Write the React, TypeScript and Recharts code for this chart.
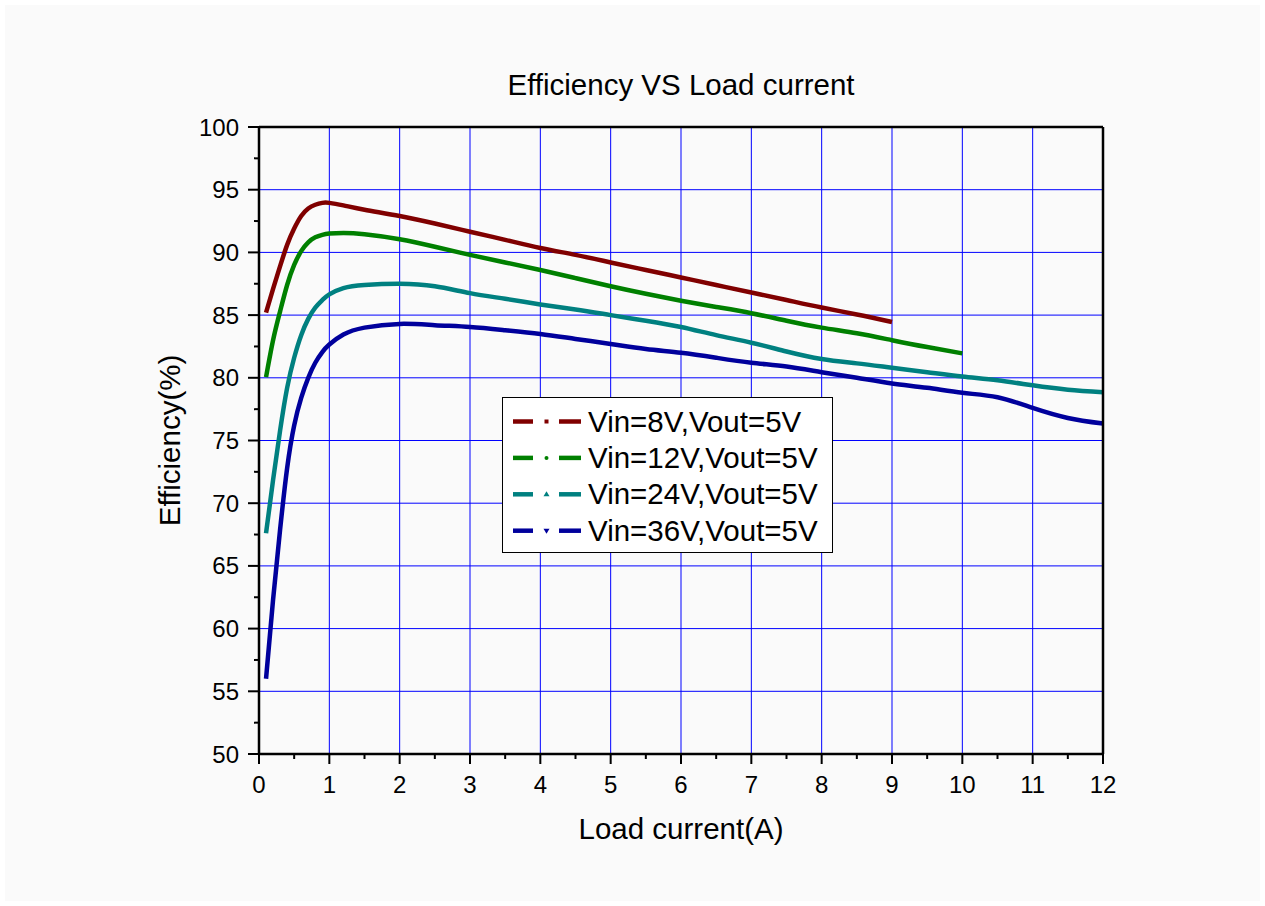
import React from 'react';
import { LineChart, Line, XAxis, YAxis, ReferenceLine, Legend, Label } from 'recharts';

// ---- data ----
const current8 = [0.1, 0.2, 0.3, 0.4, 0.5, 0.6, 0.7, 0.8, 0.9, 1.0, 1.2, 1.5, 2, 2.5, 3, 3.5, 4, 4.5, 5, 5.5, 6, 6.5, 7, 7.5, 8, 8.5, 9];
const eff8 = [85.2, 87.1, 88.9, 90.6, 91.9, 92.9, 93.5, 93.8, 93.95, 93.95, 93.75, 93.4, 92.9, 92.3, 91.65, 91.0, 90.35, 89.8, 89.2, 88.6, 88.0, 87.4, 86.8, 86.2, 85.6, 85.05, 84.45];

const current12 = [0.1, 0.2, 0.3, 0.4, 0.5, 0.6, 0.7, 0.8, 0.9, 1.0, 1.2, 1.5, 2, 2.5, 3, 3.5, 4, 4.5, 5, 5.5, 6, 6.5, 7, 7.5, 8, 8.5, 9, 9.5, 10];
const eff12 = [80.05, 83.0, 85.3, 87.4, 89.0, 90.1, 90.8, 91.2, 91.4, 91.5, 91.55, 91.45, 91.05, 90.45, 89.8, 89.2, 88.6, 87.95, 87.3, 86.7, 86.15, 85.65, 85.15, 84.55, 84.0, 83.55, 83.0, 82.45, 81.95];

const current24 = [0.1, 0.2, 0.3, 0.4, 0.5, 0.6, 0.7, 0.8, 0.9, 1.0, 1.2, 1.5, 2, 2.5, 3, 3.5, 4, 4.5, 5, 5.5, 6, 6.5, 7, 7.5, 8, 8.5, 9, 9.5, 10, 10.5, 11, 11.5, 12];
const eff24 = [67.6, 71.85, 75.8, 79.2, 81.6, 83.4, 84.7, 85.6, 86.2, 86.65, 87.15, 87.4, 87.5, 87.3, 86.75, 86.3, 85.85, 85.45, 85.0, 84.55, 84.05, 83.4, 82.8, 82.1, 81.5, 81.15, 80.8, 80.45, 80.1, 79.8, 79.4, 79.05, 78.85];

const current36 = [0.1, 0.2, 0.3, 0.4, 0.5, 0.6, 0.7, 0.8, 0.9, 1.0, 1.2, 1.5, 2, 2.5, 3, 3.5, 4, 4.5, 5, 5.5, 6, 6.5, 7, 7.5, 8, 8.5, 9, 9.5, 10, 10.5, 11, 11.5, 12];
const eff36 = [56.0, 62.3, 67.9, 72.8, 76.2, 78.4, 80.0, 81.2, 82.05, 82.65, 83.45, 84.0, 84.3, 84.2, 84.05, 83.8, 83.5, 83.1, 82.7, 82.3, 82.0, 81.6, 81.2, 80.9, 80.45, 80.0, 79.55, 79.2, 78.8, 78.45, 77.6, 76.8, 76.35];

const seriesNames = ['Vin=8V,Vout=5V', 'Vin=12V,Vout=5V', 'Vin=24V,Vout=5V', 'Vin=36V,Vout=5V'];
const seriesColors = ['#800000', '#008000', '#008080', '#00009c'];
const seriesMarkers = ['square', 'circle', 'triUp', 'triDown'];

const xTicks = [0, 0.5, 1, 1.5, 2, 2.5, 3, 3.5, 4, 4.5, 5, 5.5, 6, 6.5, 7, 7.5, 8, 8.5, 9, 9.5, 10, 10.5, 11, 11.5, 12];
const xMajor = [0, 1, 2, 3, 4, 5, 6, 7, 8, 9, 10, 11, 12];
const yTicks = [50, 52.5, 55, 57.5, 60, 62.5, 65, 67.5, 70, 72.5, 75, 77.5, 80, 82.5, 85, 87.5, 90, 92.5, 95, 97.5, 100];
const yMajor = [50, 55, 60, 65, 70, 75, 80, 85, 90, 95, 100];
const xGrid = [1, 2, 3, 4, 5, 6, 7, 8, 9, 10, 11];
const yGrid = [55, 60, 65, 70, 75, 80, 85, 90, 95];

const titleText = 'Efficiency VS Load current';
const xTitle = 'Load current(A)';
const yTitle = 'Efficiency(%)';

const toRows = (xs: number[], ys: number[]) => xs.map((c, i) => ({ current: c, eff: ys[i] }));
const seriesData = [toRows(current8, eff8), toRows(current12, eff12), toRows(current24, eff24), toRows(current36, eff36)];

const FONT = '"Liberation Sans", Arial, Helvetica, sans-serif';

const XTick = (props: any) => {
  const { x, y, payload } = props;
  const v = payload.value;
  const major = xMajor.includes(v);
  return (
    <g>
      <line x1={x} y1={y} x2={x} y2={y + (major ? 10 : 5)} stroke="#000" strokeWidth={2} />
      {major && (
        <text x={x} y={y + 39} textAnchor="middle" fontSize={24} fill="#000" fontFamily={FONT}>
          {v}
        </text>
      )}
    </g>
  );
};

const YTick = (props: any) => {
  const { x, y, payload } = props;
  const v = payload.value;
  const major = yMajor.includes(v);
  return (
    <g>
      <line x1={x} y1={y} x2={x - (major ? 11 : 5)} y2={y} stroke="#000" strokeWidth={2} />
      {major && (
        <text x={x - 20} y={y + 8.5} textAnchor="end" fontSize={24} fill="#000" fontFamily={FONT}>
          {v}
        </text>
      )}
    </g>
  );
};

const EmptyTick = () => <g />;

const Marker = ({ kind, cx, cy, color }: { kind: string; cx: number; cy: number; color: string }) => {
  if (kind === 'square') return <rect x={cx - 2} y={cy - 2} width={4} height={4} fill={color} />;
  if (kind === 'circle') return <circle cx={cx} cy={cy} r={2} fill={color} />;
  if (kind === 'triUp') return <polygon points={`${cx},${cy - 3} ${cx - 3},${cy + 2} ${cx + 3},${cy + 2}`} fill={color} />;
  return <polygon points={`${cx},${cy + 3} ${cx - 3},${cy - 2} ${cx + 3},${cy - 2}`} fill={color} />;
};

const LegendBox = () => (
  <div
    style={{
      width: 331,
      height: 156,
      border: '1.5px solid #000',
      background: '#ffffff',
      boxSizing: 'border-box',
    }}
  >
    <svg width={328} height={153} style={{ display: 'block' }}>
      {seriesNames.map((name, i) => {
        const cy = 23.5 + 36.4 * i;
        const color = seriesColors[i];
        return (
          <g key={name}>
            <line x1={10} y1={cy} x2={30} y2={cy} stroke={color} strokeWidth={4.5} />
            <Marker kind={seriesMarkers[i]} cx={43.5} cy={cy} color={color} />
            <line x1={56} y1={cy} x2={78} y2={cy} stroke={color} strokeWidth={4.5} />
            <text x={85} y={cy + 10} fontSize={29.5} fill="#000" fontFamily={FONT}>
              {name}
            </text>
          </g>
        );
      })}
    </svg>
  </div>
);

export default function App() {
  return (
    <div style={{ position: 'absolute', left: 0, top: 0, width: 1265, height: 906, background: '#ffffff' }}>
      <div style={{ position: 'absolute', left: 5, top: 5, width: 1255, height: 896, background: '#fafafa' }} />
      <div style={{ position: 'absolute', left: 0, top: 0 }}>
        <LineChart width={1265} height={906} margin={{ top: 126, right: 161, bottom: 112, left: 199 }}>
          <XAxis
            dataKey="current"
            type="number"
            domain={[0, 12]}
            ticks={xTicks}
            interval={0}
            tick={<XTick />}
            tickLine={false}
            tickSize={0}
            tickMargin={0}
            height={40}
            axisLine={{ stroke: '#000', strokeWidth: 2.5 }}
          >
            <Label
              content={(p: any) => {
                const vb = p.viewBox || {};
                return (
                  <text x={vb.x + vb.width / 2} y={vb.y + 85} textAnchor="middle" fontSize={29.5} fill="#000" fontFamily={FONT}>
                    {xTitle}
                  </text>
                );
              }}
            />
          </XAxis>
          <XAxis
            xAxisId="top"
            orientation="top"
            dataKey="current"
            type="number"
            domain={[0, 12]}
            ticks={xMajor}
            interval={0}
            tick={<EmptyTick />}
            tickLine={false}
            height={1}
            axisLine={{ stroke: '#000', strokeWidth: 2.5 }}
          >
            <Label
              content={(p: any) => {
                const vb = p.viewBox || {};
                return (
                  <text x={vb.x + vb.width / 2} y={vb.y + vb.height - 32} textAnchor="middle" fontSize={29.5} fill="#000" fontFamily={FONT}>
                    {titleText}
                  </text>
                );
              }}
            />
          </XAxis>
          <YAxis
            type="number"
            domain={[50, 100]}
            ticks={yTicks}
            interval={0}
            tick={<YTick />}
            tickLine={false}
            tickSize={0}
            tickMargin={0}
            width={60}
            axisLine={{ stroke: '#000', strokeWidth: 2.5 }}
          >
            <Label
              content={(p: any) => {
                const vb = p.viewBox || {};
                const cx = vb.x - 19;
                const cy = vb.y + vb.height / 2;
                return (
                  <text
                    x={cx}
                    y={cy}
                    transform={`rotate(-90 ${cx} ${cy})`}
                    textAnchor="middle"
                    fontSize={29.5}
                    fill="#000"
                    fontFamily={FONT}
                  >
                    {yTitle}
                  </text>
                );
              }}
            />
          </YAxis>
          <YAxis
            yAxisId="right"
            orientation="right"
            type="number"
            domain={[50, 100]}
            ticks={yMajor}
            interval={0}
            tick={<EmptyTick />}
            tickLine={false}
            width={1}
            axisLine={{ stroke: '#000', strokeWidth: 2.5 }}
          />
          {xGrid.map((v) => (
            <ReferenceLine key={`gx${v}`} x={v} stroke="#0000ff" strokeWidth={1} />
          ))}
          {yGrid.map((v) => (
            <ReferenceLine key={`gy${v}`} y={v} stroke="#0000ff" strokeWidth={1} />
          ))}
          {seriesData.map((d, i) => (
            <Line
              key={seriesNames[i]}
              data={d}
              dataKey="eff"
              name={seriesNames[i]}
              type="natural"
              stroke={seriesColors[i]}
              strokeWidth={4.5}
              dot={false}
              activeDot={false}
              isAnimationActive={false}
            />
          ))}
          <Legend
            layout="vertical"
            align="center"
            verticalAlign="middle"
            content={<LegendBox />}
            wrapperStyle={{ position: 'absolute', left: 502, top: 397, width: 331, height: 156 }}
          />
        </LineChart>
      </div>
    </div>
  );
}
